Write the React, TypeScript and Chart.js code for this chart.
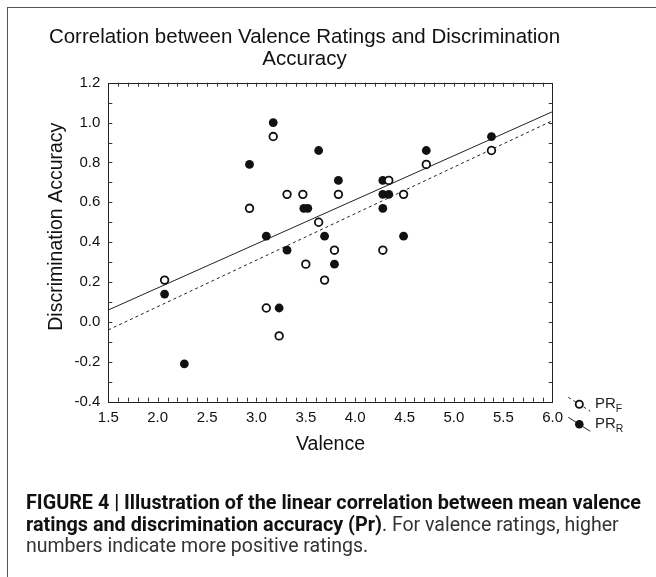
import React, { useEffect, useRef } from "react";
import { Chart, registerables } from "chart.js";

Chart.register(...registerables);

// ---- text ----
const TITLE_LINES = ["Correlation between Valence Ratings and Discrimination", "Accuracy"];
const X_TITLE = "Valence";
const Y_TITLE = "Discrimination Accuracy";
const LEGEND_MAIN = ["PR", "PR"];
const LEGEND_SUB = ["F", "R"];
const CAPTION_BOLD_1 = "FIGURE 4 | Illustration of the linear correlation between mean valence";
const CAPTION_BOLD_2 = "ratings and discrimination accuracy (Pr)";
const CAPTION_REST_2 = ". For valence ratings, higher";
const CAPTION_REST_3 = "numbers indicate more positive ratings.";

// ---- axes ----
const X_MIN = 1.5;
const X_MAX = 6.0;
const X_STEP = 0.5;
const Y_MIN = -0.4;
const Y_MAX = 1.2;
const Y_STEP = 0.2;
const MINOR_STEP = 0.1;

// ---- data: PR_F (open circles) ----
const PRF_X = [3.17, 3.31, 3.47, 3.83, 2.93, 3.63, 3.79, 3.5, 2.07, 3.69, 3.1, 3.23, 5.38, 4.72, 4.34, 4.49, 4.28];
const PRF_Y = [0.93, 0.64, 0.64, 0.64, 0.57, 0.5, 0.36, 0.29, 0.21, 0.21, 0.07, -0.07, 0.86, 0.79, 0.71, 0.64, 0.36];

// ---- data: PR_R (filled circles) ----
const PRR_X = [3.17, 3.63, 2.93, 3.83, 3.48, 3.52, 3.1, 3.69, 3.31, 3.79, 2.07, 3.23, 2.27, 5.38, 4.72, 4.28, 4.28, 4.34, 4.49, 4.28];
const PRR_Y = [1.0, 0.86, 0.79, 0.71, 0.57, 0.57, 0.43, 0.43, 0.36, 0.29, 0.14, 0.07, -0.21, 0.93, 0.86, 0.71, 0.64, 0.64, 0.43, 0.57];

// ---- regression lines ----
const FIT_X = [1.5, 6.0];
const PRF_FIT_Y = [-0.04, 1.01];
const PRR_FIT_Y = [0.06, 1.055];

const FONT = "'Liberation Sans', Arial, sans-serif";

function pts(xs: number[], ys: number[]) {
  return xs.map((x, i) => ({ x, y: ys[i] }));
}

const framePlugin = {
  id: "frameTicks",
  beforeDatasetsDraw(chart: any) {
    const { ctx, chartArea: a, scales } = chart;
    const xs = scales.x;
    const ys = scales.y;
    ctx.save();
    ctx.strokeStyle = "#222";
    ctx.lineWidth = 1;
    ctx.strokeRect(Math.round(a.left) + 0.5, Math.round(a.top) + 0.5, Math.round(a.right - a.left), Math.round(a.bottom - a.top));
    ctx.strokeStyle = "#333";
    ctx.beginPath();
    const tl = 4;
    const nx = Math.round((X_MAX - X_MIN) / MINOR_STEP);
    for (let i = 1; i < nx; i++) {
      const px = Math.round(xs.getPixelForValue(X_MIN + i * MINOR_STEP)) + 0.5;
      ctx.moveTo(px, a.bottom);
      ctx.lineTo(px, a.bottom - tl);
      ctx.moveTo(px, a.top);
      ctx.lineTo(px, a.top + tl);
    }
    const ny = Math.round((Y_MAX - Y_MIN) / MINOR_STEP);
    for (let i = 1; i < ny; i++) {
      const py = Math.round(ys.getPixelForValue(Y_MIN + i * MINOR_STEP)) + 0.5;
      ctx.moveTo(a.left, py);
      ctx.lineTo(a.left + tl, py);
      ctx.moveTo(a.right, py);
      ctx.lineTo(a.right - tl, py);
    }
    ctx.stroke();
    ctx.restore();
  },
  afterDraw(chart: any) {
    const { ctx, chartArea: a } = chart;
    ctx.save();
    ctx.fillStyle = "#111";
    // axis titles
    ctx.font = `19.5px ${FONT}`;
    ctx.textAlign = "center";
    ctx.textBaseline = "middle";
    ctx.fillText(X_TITLE, (a.left + a.right) / 2, a.bottom + 43.3);
    ctx.save();
    ctx.translate(a.left - 52, (a.top + a.bottom) / 2 - 15.5);
    ctx.rotate(-Math.PI / 2);
    ctx.fillText(Y_TITLE, 0, 0);
    ctx.restore();
    // legend
    const cx = a.right + 26.6;
    const cys = [a.bottom + 2.6, a.bottom + 22.6];
    cys.forEach((cy, i) => {
      ctx.save();
      ctx.strokeStyle = "#222";
      ctx.lineWidth = 1;
      if (i === 0) ctx.setLineDash([3, 3]);
      ctx.beginPath();
      ctx.moveTo(cx - 11, cy - 7);
      ctx.lineTo(cx + 11, cy + 7);
      ctx.stroke();
      ctx.setLineDash([]);
      ctx.beginPath();
      ctx.arc(cx, cy, i === 0 ? 3.6 : 4.3, 0, Math.PI * 2);
      if (i === 0) {
        ctx.fillStyle = "#fff";
        ctx.fill();
        ctx.lineWidth = 1.8;
        ctx.strokeStyle = "#111";
        ctx.stroke();
      } else {
        ctx.fillStyle = "#111";
        ctx.fill();
      }
      ctx.restore();
      ctx.fillStyle = "#222";
      ctx.textAlign = "left";
      ctx.textBaseline = "middle";
      ctx.font = `15px ${FONT}`;
      const tx = a.right + 42.3;
      ctx.fillText(LEGEND_MAIN[i], tx, cy);
      const w = ctx.measureText(LEGEND_MAIN[i]).width;
      ctx.font = `10.5px ${FONT}`;
      ctx.fillText(LEGEND_SUB[i], tx + w, cy + 4.5);
    });
    ctx.restore();
  },
};

export default function App() {
  const ref = useRef<HTMLCanvasElement | null>(null);

  useEffect(() => {
    if (!ref.current) return;
    const chart = new Chart(ref.current, {
      type: "scatter",
      data: {
        datasets: [
          {
            label: "PR_F",
            data: pts(PRF_X, PRF_Y),
            pointRadius: 3.8,
            pointBackgroundColor: "#fff",
            pointBorderColor: "#111",
            pointBorderWidth: 1.8,
            order: 1,
          },
          {
            label: "PR_R",
            data: pts(PRR_X, PRR_Y),
            pointRadius: 4.4,
            pointBackgroundColor: "#111",
            pointBorderColor: "#111",
            pointBorderWidth: 0,
            order: 2,
          },
          {
            label: "PR_F fit",
            data: pts(FIT_X, PRF_FIT_Y),
            showLine: true,
            pointRadius: 0,
            borderColor: "#222",
            borderWidth: 1,
            borderDash: [3, 3],
            order: 3,
          },
          {
            label: "PR_R fit",
            data: pts(FIT_X, PRR_FIT_Y),
            showLine: true,
            pointRadius: 0,
            borderColor: "#222",
            borderWidth: 1,
            order: 4,
          },
        ],
      },
      options: {
        animation: false,
        responsive: true,
        maintainAspectRatio: false,
        layout: { padding: { top: 74.7, right: 95.3, left: 0, bottom: 0 } },
        plugins: {
          legend: { display: false },
          tooltip: { enabled: false },
          title: { display: false },
        },
        scales: {
          x: {
            type: "linear",
            min: X_MIN,
            max: X_MAX,
            grid: { display: false, drawTicks: false },
            border: { display: false },
            ticks: {
              stepSize: X_STEP,
              padding: 7,
              color: "#111",
              font: { family: FONT, size: 15 },
              callback: (v: any) => Number(v).toFixed(1),
            },
            afterFit: (s: any) => {
              s.height = 56.3;
            },
          },
          y: {
            type: "linear",
            min: Y_MIN,
            max: Y_MAX,
            grid: { display: false, drawTicks: false },
            border: { display: false },
            ticks: {
              stepSize: Y_STEP,
              padding: 8,
              color: "#111",
              font: { family: FONT, size: 15 },
              callback: (v: any) => Number(v).toFixed(1),
            },
            afterFit: (s: any) => {
              s.width = 100.3;
            },
          },
        },
      },
      plugins: [framePlugin],
    });
    return () => chart.destroy();
  }, []);

  return (
    <div style={{ position: "relative", width: 640, height: 561 }}>
      <div
        style={{
          position: "fixed",
          left: 7,
          top: 7,
          width: 700,
          height: 700,
          borderLeft: "1.5px solid #555",
          borderTop: "1.5px solid #555",
          pointerEvents: "none",
        }}
      />
      <div
        style={{
          position: "absolute",
          left: 0,
          top: 16.7,
          width: 593,
          textAlign: "center",
          fontFamily: FONT,
          fontSize: 20.5,
          lineHeight: "22px",
          color: "#111",
          whiteSpace: "nowrap",
        }}
      >
        {TITLE_LINES.map((t, i) => (
          <div key={i}>{t}</div>
        ))}
      </div>
      <div style={{ position: "absolute", left: 0, top: 0, width: 640, height: 450 }}>
        <canvas ref={ref} />
      </div>
      <div
        style={{
          position: "absolute",
          left: 18,
          top: 484,
          width: 630,
          fontFamily: "Roboto, sans-serif",
          fontSize: 19.5,
          lineHeight: "21.5px",
          color: "#333",
          whiteSpace: "nowrap",
        }}
      >
        <b style={{ color: "#111", fontSize: 19.8 }}>{CAPTION_BOLD_1}</b>
        <br />
        <b style={{ color: "#111", fontSize: 19.8 }}>{CAPTION_BOLD_2}</b>
        {CAPTION_REST_2}
        <br />
        {CAPTION_REST_3}
      </div>
    </div>
  );
}
